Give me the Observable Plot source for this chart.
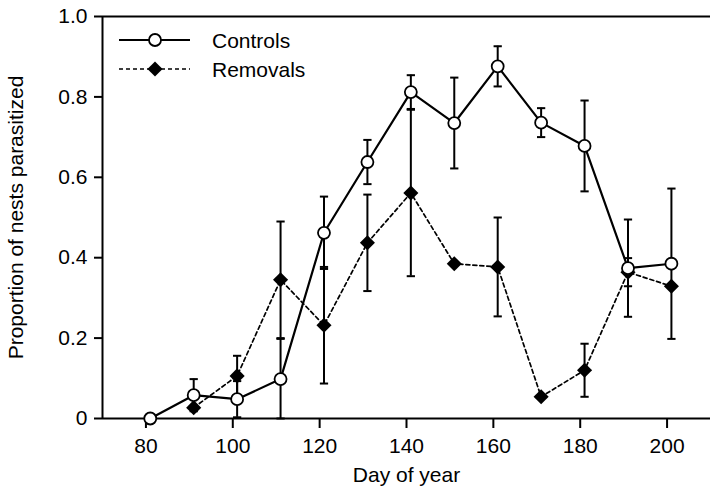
<!DOCTYPE html>
<html>
<head>
<meta charset="utf-8">
<script src="https://cdn.jsdelivr.net/npm/d3@7"></script>
<script src="https://cdn.jsdelivr.net/npm/@observablehq/plot@0.6"></script>
<style>
  html, body { margin: 0; padding: 0; background: white; }
  #wrap { position: relative; width: 710px; height: 489px; }
  #legend { position: absolute; left: 0; top: 0; }
</style>
</head>
<body>
<div id="wrap"></div>
<script>
// ---- data ----
const days = [81, 91, 101, 111, 121, 131, 141, 151, 161, 171, 181, 191, 201];
const controls = [0, 0.058, 0.048, 0.098, 0.462, 0.638, 0.812, 0.735, 0.876, 0.736, 0.678, 0.374, 0.385];
const controlsErr = [null, 0.04, 0.045, 0.1, 0.09, 0.055, 0.042, 0.113, 0.05, 0.036, 0.113, 0.121, 0.187];
const removals = [null, 0.027, 0.106, 0.345, 0.232, 0.437, 0.561, 0.385, 0.377, 0.054, 0.12, 0.364, 0.329];
const removalsErr = [null, null, 0.05, 0.145, 0.145, 0.12, 0.207, null, 0.123, null, 0.066, 0.035, null];
const xTicks = [80, 100, 120, 140, 160, 180, 200];
const yTicks = [0, 0.2, 0.4, 0.6, 0.8, 1.0];
const seriesNames = ["Controls", "Removals"];

const font = "'Liberation Sans', Arial, Helvetica, sans-serif";

const ctl = days.map((d, i) => ({day: d, v: controls[i], e: controlsErr[i]}));
const rem = days.map((d, i) => ({day: d, v: removals[i], e: removalsErr[i]})).filter(d => d.v != null);
const ctlErr = ctl.filter(d => d.e != null);
const remErr = rem.filter(d => d.e != null);
const capHalf = 0.95; // days

function errMarks(data) {
  return [
    Plot.ruleX(data, {x: "day", y1: d => d.v - d.e, y2: d => d.v + d.e, stroke: "black", strokeWidth: 2}),
    Plot.link(data, {x1: d => d.day - capHalf, x2: d => d.day + capHalf, y1: d => d.v + d.e, y2: d => d.v + d.e, stroke: "black", strokeWidth: 2}),
    Plot.link(data, {x1: d => d.day - capHalf, x2: d => d.day + capHalf, y1: d => Math.max(0, d.v - d.e), y2: d => Math.max(0, d.v - d.e), stroke: "black", strokeWidth: 2})
  ];
}

const chart = Plot.plot({
  width: 710,
  height: 489,
  marginLeft: 102,
  marginRight: 0,
  marginTop: 16,
  marginBottom: 71,
  style: {fontFamily: font, fontSize: "21px", color: "black", background: "white", overflow: "visible"},
  x: {domain: [70, 210]},
  y: {domain: [0, 1]},
  marks: [
    Plot.axisX({ticks: xTicks, tickSize: 10, tickPadding: 10, strokeWidth: 2, fontSize: 21,
      label: "Day of year", labelAnchor: "center", labelOffset: 63, labelArrow: "none"}),
    Plot.axisY({ticks: yTicks, tickSize: 8, tickPadding: 7, strokeWidth: 2, fontSize: 21,
      tickFormat: d => d === 0 ? "0" : d.toFixed(1),
      label: "Proportion of nests parasitized", labelAnchor: "center", labelOffset: 94, labelArrow: "none"}),
    Plot.ruleY([0], {stroke: "black", strokeWidth: 2}),
    Plot.ruleY([1], {stroke: "black", strokeWidth: 2}),
    Plot.ruleX([70], {stroke: "black", strokeWidth: 2}),
    ...errMarks(remErr),
    ...errMarks(ctlErr),
    Plot.line(rem, {x: "day", y: "v", stroke: "black", strokeWidth: 1.7, strokeDasharray: "4,3"}),
    Plot.line(ctl, {x: "day", y: "v", stroke: "black", strokeWidth: 2.2}),
    Plot.dot(rem, {x: "day", y: "v", symbol: "diamond2", r: 6.8, fill: "black", stroke: "none"}),
    Plot.dot(ctl, {x: "day", y: "v", symbol: "circle", r: 6, fill: "white", stroke: "black", strokeWidth: 1.8})
  ]
});

const wrap = document.getElementById("wrap");
wrap.appendChild(chart);

// ---- legend (inside plot, top-left) ----
const leg = d3.select(wrap).append("svg").attr("id", "legend").attr("width", 710).attr("height", 100);
const legendRows = [
  {name: seriesNames[0], y: 40, dash: null, w: 2.2},
  {name: seriesNames[1], y: 69, dash: "4,3", w: 1.7}
];
legendRows.forEach((r, i) => {
  leg.append("line").attr("x1", 119).attr("x2", 190).attr("y1", r.y).attr("y2", r.y)
    .attr("stroke", "black").attr("stroke-width", r.w).attr("stroke-dasharray", r.dash);
  if (i === 0) {
    leg.append("circle").attr("cx", 155).attr("cy", r.y).attr("r", 6)
      .attr("fill", "white").attr("stroke", "black").attr("stroke-width", 1.8);
  } else {
    leg.append("path").attr("transform", `translate(155,${r.y})`)
      .attr("d", d3.symbol(d3.symbolDiamond2, Math.PI * 6.8 * 6.8)()).attr("fill", "black");
  }
  leg.append("text").attr("x", 212).attr("y", r.y).attr("dy", "0.36em")
    .attr("font-family", font).attr("font-size", 21).attr("fill", "black").text(r.name);
});
</script>
</body>
</html>
